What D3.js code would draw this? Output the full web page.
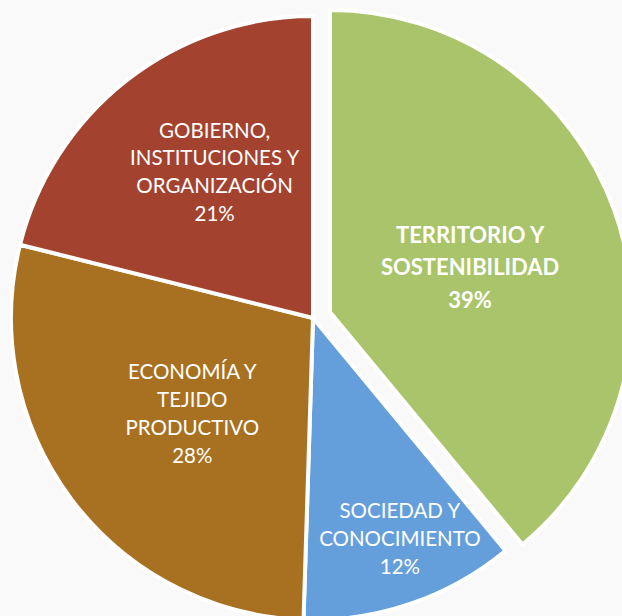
<!DOCTYPE html>
<html>
<head>
<meta charset="utf-8">
<script src="https://cdn.jsdelivr.net/npm/d3@7"></script>
<style>
  body { margin: 0; background: #f9f9f9; overflow: hidden; }
  svg { display: block; }
</style>
</head>
<body>
<svg width="622" height="616"></svg>
<script>
// data
var categories = ["TERRITORIO Y SOSTENIBILIDAD", "SOCIEDAD Y CONOCIMIENTO", "ECONOMÍA Y TEJIDO PRODUCTIVO", "GOBIERNO, INSTITUCIONES Y ORGANIZACIÓN"];
var values = [39.0, 11.5, 28.4, 21.1];
var labelLines = [
  ["TERRITORIO Y", "SOSTENIBILIDAD"],
  ["SOCIEDAD Y", "CONOCIMIENTO"],
  ["ECONOMÍA Y", "TEJIDO", "PRODUCTIVO"],
  ["GOBIERNO,", "INSTITUCIONES Y", "ORGANIZACIÓN"]
];
var colors = ["#a9c46b", "#659fdb", "#a87122", "#a3432f"];

var svg = d3.select("svg"),
    width = +svg.attr("width"),
    height = +svg.attr("height");

var cx = 313, cy = 318, radius = 302;
var explode = [18, 0, 0, 0];          // only the first slice is pulled out
var labelR = [147, 237, 154, 176];    // label distance from centre, per slice
var labelShift = [2.3, -2.6, -1.3, 4]; // degrees, nudges labels like excel's best fit
var lineH = [32.5, 28, 28, 27.7];

var total = d3.sum(values);
var pie = d3.pie().sort(null).value(function(d) { return d; });
var arc = d3.arc().innerRadius(0).outerRadius(radius);
var arcs = pie(values);

var g = svg.append("g").attr("transform", "translate(" + cx + "," + cy + ")");

var slice = g.selectAll(".slice")
    .data(arcs)
    .enter().append("g")
    .attr("class", "slice")
    .attr("transform", function(d, i) {
        var a = (d.startAngle + d.endAngle) / 2;
        return "translate(" + (Math.sin(a) * explode[i]) + "," + (-Math.cos(a) * explode[i]) + ")";
    });

slice.append("path")
    .attr("d", arc)
    .attr("fill", function(d, i) { return colors[i]; })
    .attr("stroke", "#ffffff")
    .attr("stroke-width", 4)
    .attr("stroke-linejoin", "round");

slice.append("text")
    .attr("text-anchor", "middle")
    .attr("fill", "#ffffff")
    .style("font-family", "Lato, 'Open Sans', sans-serif")
    .style("font-size", function(d, i) { return i == 0 ? "22px" : "20.5px"; })
    .style("font-weight", function(d, i) { return i == 0 ? "bold" : "normal"; })
    .each(function(d, i) {
        var a = (d.startAngle + d.endAngle) / 2 + labelShift[i] * Math.PI / 180;
        var x = Math.sin(a) * labelR[i],
            y = -Math.cos(a) * labelR[i];
        var pct = Math.round(d.value / total * 100) + "%";
        var lines = labelLines[i].concat([pct]);
        var t = d3.select(this);
        var y0 = y - (lines.length - 1) * lineH[i] / 2;
        lines.forEach(function(s, k) {
            t.append("tspan")
                .attr("x", x)
                .attr("y", y0 + k * lineH[i])
                .attr("dy", "0.35em")
                .text(s);
        });
    });
</script>
</body>
</html>
